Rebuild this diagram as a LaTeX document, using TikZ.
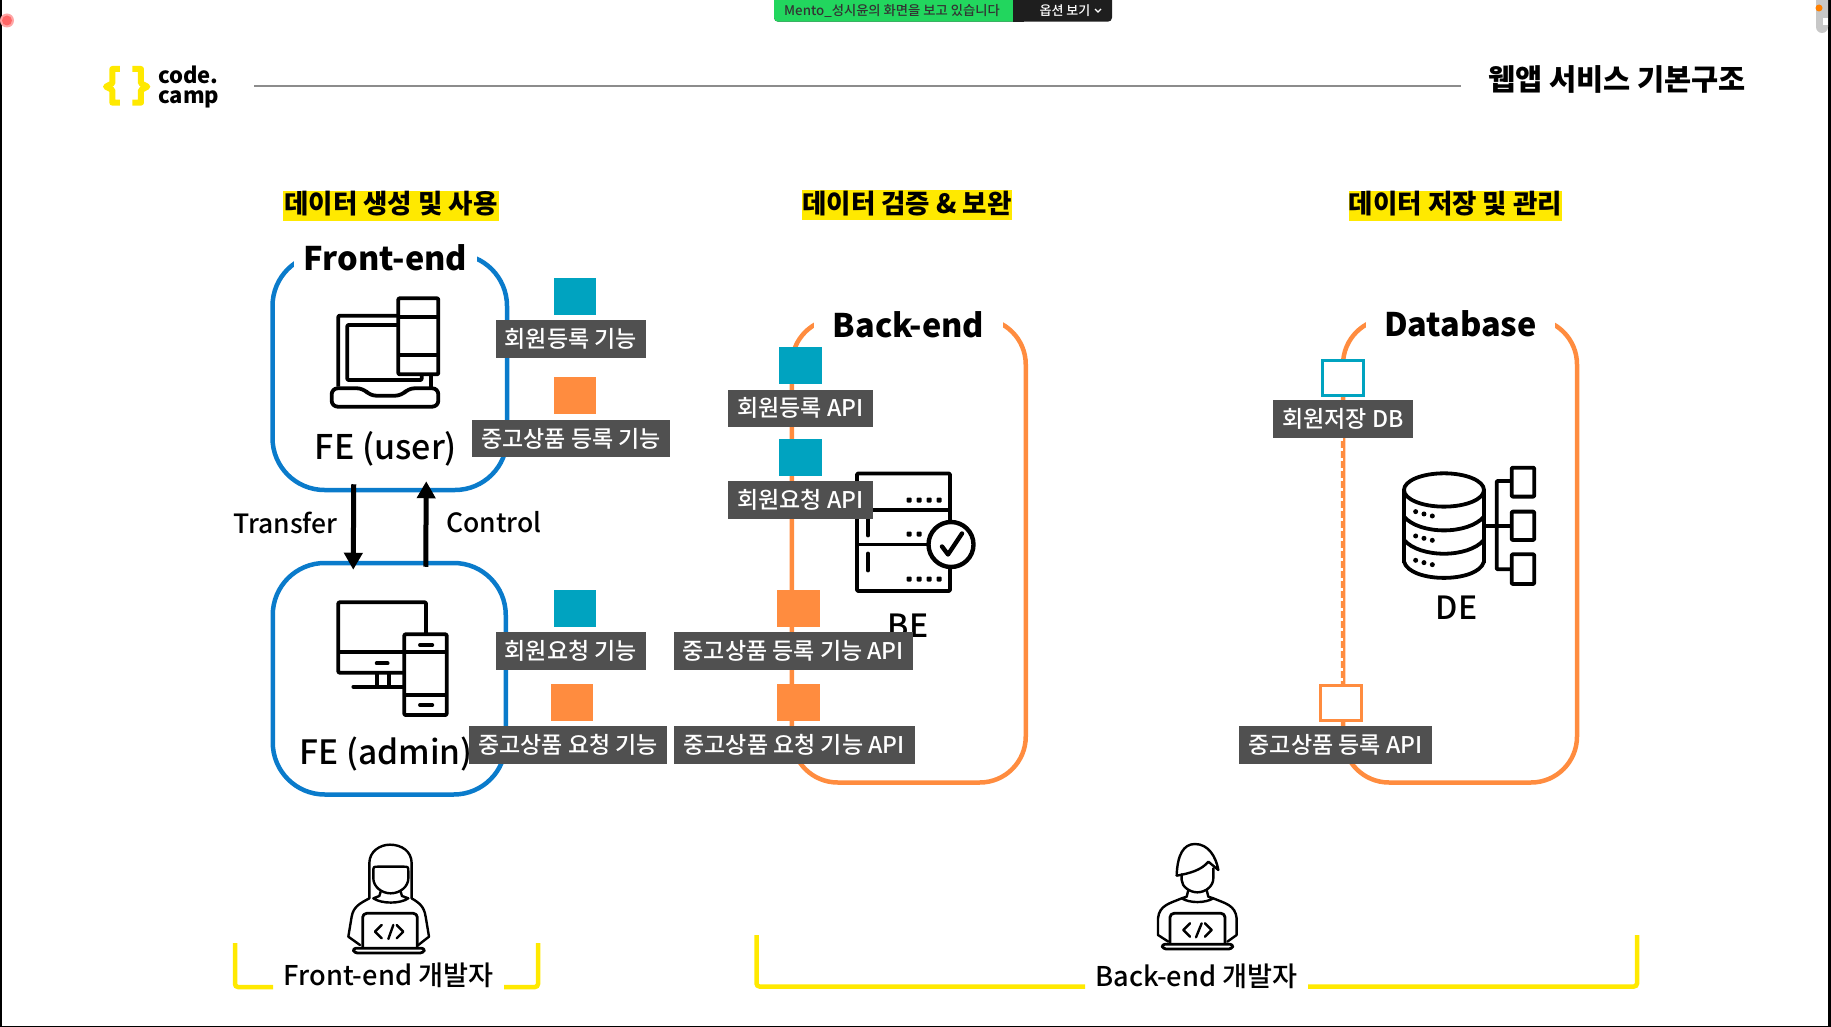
\documentclass[tikz,border=0pt]{standalone}
\usepackage{xcolor}
\usepackage{fontspec}
\setmainfont{Noto Sans CJK KR}
\newfontfamily\medfont{Noto Sans CJK KR Medium}
\usetikzlibrary{arrows.meta, positioning}
\definecolor{feblue}{HTML}{0A7BCB}
\definecolor{beorange}{HTML}{FF8C3F}
\definecolor{swteal}{HTML}{00A3C0}
\definecolor{lblgray}{HTML}{505050}
\definecolor{hiyellow}{HTML}{FFE900}
\definecolor{barfg}{HTML}{22D65E}
\definecolor{bardark}{HTML}{1E1E1E}
\newcommand{\fsz}[1]{\fontsize{#1}{#1}\selectfont}

\begin{document}
\begin{tikzpicture}[
  x=1pt, y=-1pt,
  febox/.style={rectangle, draw=feblue, line width=4.5pt, rounded corners=52pt},
  grpbox/.style={rectangle, draw=beorange, line width=4.5pt, rounded corners=46pt, minimum width=234pt, minimum height=464pt},
  grptitle/.style={fill=white, inner sep=0pt, minimum height=38pt, font=\fsz{32.5}\bfseries},
  headline/.style={fill=hiyellow, inner sep=0pt, text height=23pt, text depth=7pt, font=\fsz{26.5}\bfseries},
  plain/.style={inner sep=0pt, font=\fsz{32}\medfont},
  sidetext/.style={inner sep=0pt, font=\fsz{26.5}\medfont},
  devtext/.style={inner sep=0pt, font=\fsz{27.2}\medfont},
  apilbl/.style={fill=lblgray, text=white, inner sep=0pt, minimum height=37.5pt, font=\fsz{23}\medfont},
  tealsq/.style={fill=swteal, inner sep=0pt, minimum width=42.5pt, minimum height=37pt},
  orangesq/.style={fill=beorange, inner sep=0pt, minimum width=42.5pt, minimum height=37pt},
  tealopen/.style={draw=swteal, fill=white, line width=2.6pt, inner sep=0pt, minimum width=41pt, minimum height=35pt},
  orangeopen/.style={draw=beorange, fill=white, line width=2.6pt, inner sep=0pt, minimum width=41pt, minimum height=35pt},
  flowarrow/.style={line width=5pt, -{Triangle[width=18pt,length=17pt]}},
  bracket/.style={draw=hiyellow, line width=4.5pt, rounded corners=3pt},
  icon/.style={line width=3.8pt, line join=round, rounded corners=1pt},
  person/.style={line width=2.4pt, line join=round, line cap=round},
  iconpx/.style={x=0.3333pt, y=-0.3333pt}
]
\useasboundingbox (0,0) rectangle (1831,1027);

% window edges and the sharing bar
\fill[black] (0,0) rectangle (2,1027);
\fill[black] (1828,0) rectangle (1831,1027);
\fill[black] (0,1025.5) rectangle (1831,1027);
\fill[red!35!white] (7,20.5) circle (7pt);
\fill[red!60!white] (7,20.5) circle (5pt);
\fill[black!22, rounded corners=6pt] (1816,-10) rectangle (1828,33);
\fill[white] (1823,18) rectangle (1828,25);
\fill[orange] (1819,8) circle (3.5pt);
\fill[bardark, rounded corners=4pt] (774,-10) rectangle (1112,21.7);
\fill[barfg, rounded corners=4pt] (774,-10) rectangle (1020,21.7);
\fill[bardark] (1013,-10) rectangle (1024,21.7);
\node[inner sep=0pt, text=black!80, font=\fsz{13.3}\medfont] (barname) at (892,11) {Mento\_성시윤의 화면을 보고 있습니다};
\node[inner sep=0pt, text=white, font=\fsz{13}\medfont] (baropt) at (1065,11) {옵션 보기};
\draw[white, line width=1.2pt] (1095,9) -- (1098,12) -- (1101,9);

% logo, rule and page title
\begin{scope}[shift={(95,55)}, iconpx]
  \draw[hiyellow, line width=6pt, line join=round] (75,42) -- (52,42) -- (52,85) -- (33,95) -- (52,105) -- (52,143) -- (75,143);
  \draw[hiyellow, line width=6pt, line join=round] (112,42) -- (138,42) -- (138,85) -- (157,95) -- (138,105) -- (138,143) -- (112,143);
\end{scope}
\node[inner sep=0pt, align=left, anchor=west, font=\fontsize{22}{20}\selectfont\bfseries] (logo) at (158,86.5) {code.\\camp};
\node[inner sep=0pt, font=\fsz{29.5}\bfseries] (pagetitle) at (1617,79) {웹앱 서비스 기본구조};
\coordinate (rulea) at (254,86.5);
\coordinate (ruleb) at (1461,86.5);
\draw[black!45, line width=2pt] (rulea) -- (ruleb);

\node[headline, minimum width=216pt] (headfe) at (391,206) {데이터 생성 및 사용};
\node[headline, minimum width=210pt] (headbe) at (907,205.5) {데이터 검증 \& 보완};
\node[headline, minimum width=213pt] (headdb) at (1455.5,206) {데이터 저장 및 관리};

% the four boxes
\node[febox, minimum width=234.5pt, minimum height=236pt] (feuser) at (389.75,372) {};
\node[febox, minimum width=233pt, minimum height=231.5pt] (feadmin) at (389.25,678.75) {};
\node[grpbox] (bebox) at (908.75,550.5) {};
\node[grpbox] (dbbox) at (1460,550.5) {};

\node[grptitle, minimum width=183pt] (fetitle) at (385.5,258) {Front-end};
\node[grptitle, minimum width=189pt] (betitle) at (908.5,325) {Back-end};
\node[grptitle, minimum width=189pt] (dbtitle) at (1460.5,324) {Database};

\node[plain, font=\fsz{34}\medfont] (feusertxt) at (386,449) {FE (user)};
\node[plain, font=\fsz{33.5}\medfont] (feadmintxt) at (386,754) {FE (admin)};
\node[plain] (betxt) at (908,626) {BE};
\node[plain] (detxt) at (1456.5,607.5) {DE};

\draw[flowarrow] ([xshift=-36pt,yshift=8pt]feuser.south) -- ([xshift=-36pt,yshift=-9pt]feadmin.north);
\draw[flowarrow] ([xshift=36.5pt,yshift=-6pt]feadmin.north) -- ([xshift=36.5pt,yshift=11pt]feuser.south);
\node[sidetext] (transfer) at (285.5,522.5) {Transfer};
\node[sidetext] (control) at (494,522.5) {Control};

% laptop
\begin{scope}[shift={(320,285)}, iconpx, icon]
  \draw (55,305) -- (55,92) -- (235,92);
  \draw (235,120) -- (82,120) -- (82,285) -- (305,285) -- (305,268);
  \draw (333,268) -- (333,305);
  \draw (235,40) rectangle (355,268);
  \draw (235,97) -- (355,97);
  \draw (235,210) -- (355,210);
  \draw[rounded corners=6pt] (35,310) -- (130,310) -- (150,332) -- (245,332) -- (265,310) -- (355,310) -- (355,365) -- (35,365) -- cycle;
\end{scope}
% desktop and phone
\begin{scope}[shift={(325,590)}, iconpx, icon]
  \draw (303,130) -- (303,37) -- (40,37) -- (40,248) -- (235,248);
  \draw (40,187) -- (235,187);
  \draw[line cap=round] (155,220) -- (188,220);
  \draw (155,248) -- (155,290);
  \draw (192,248) -- (192,290);
  \draw[line cap=round] (85,290) -- (235,290);
  \draw (238,133) rectangle (365,375);
  \draw (238,187) -- (365,187);
  \draw (238,315) -- (365,315);
  \draw[line cap=round] (285,165) -- (322,165);
  \draw[line cap=round] (285,345) -- (322,345);
\end{scope}
% server rack
\begin{scope}[shift={(857,473.5)}, icon]
  \draw (0,0) rectangle (93,117.5);
  \draw (0,36.5) -- (93,36.5);
  \draw (0,71) -- (93,71);
  \draw[line cap=round] (11,45) -- (11,62);
  \draw[line cap=round] (11,80) -- (11,97);
  \foreach \dotx in {52,62,72,82} {
    \fill (\dotx-2.5,24) rectangle (\dotx+2.5,29);
    \fill (\dotx-2.5,103) rectangle (\dotx+2.5,108);
  }
  \foreach \dotx in {52,62} {
    \fill (\dotx-2.5,58) rectangle (\dotx+2.5,63);
  }
  \draw[fill=white, line width=4.4pt] (94,71) circle (22.5pt);
  \draw[line width=4.4pt, line cap=round, sharp corners] (85,73) -- (91,81) -- (105,60);
\end{scope}
% database and tree
\begin{scope}[shift={(1200,290)}, iconpx, icon]
  \draw (732,600) ellipse [x radius=120, y radius=50];
  \draw (612,600) -- (612,820);
  \draw (852,600) -- (852,820);
  \draw (612,680) .. controls (660,735) and (804,735) .. (852,680);
  \draw (612,750) .. controls (660,805) and (804,805) .. (852,750);
  \draw (612,815) .. controls (630,880) and (834,880) .. (852,815);
  \foreach \rowy in {0,73,146} {
    \fill (647,665+\rowy) circle (2.5pt);
    \fill (672,672+\rowy) circle (2.5pt);
    \fill (697,678+\rowy) circle (2.5pt);
  }
  \draw (935,573) -- (890,573) -- (890,838) -- (935,838);
  \draw (852,708) -- (935,708);
  \draw (935,533) rectangle (1003,620);
  \draw (935,665) rectangle (1003,750);
  \draw (935,793) rectangle (1003,882);
\end{scope}

% labels and their squares
\node[apilbl, minimum width=150.5pt] (fesignup) at (570.75,339) {회원등록 기능};
\node[tealsq, above=5pt of fesignup, xshift=4pt] (fesignupsq) {};
\node[apilbl, minimum width=198pt] (feadd) at (571,438.5) {중고상품 등록 기능};
\node[orangesq, above=5pt of feadd, xshift=4pt] (feaddsq) {};
\node[apilbl, minimum width=150.5pt] (fereq) at (570.75,650.75) {회원요청 기능};
\node[tealsq, above=5pt of fereq, xshift=4pt] (fereqsq) {};
\node[apilbl, minimum width=198pt] (feget) at (568,745) {중고상품 요청 기능};
\node[orangesq, above=5pt of feget, xshift=4pt] (fegetsq) {};

\node[apilbl, minimum width=145.3pt] (besignup) at (800.3,408.25) {회원등록 API};
\node[tealsq, above=5pt of besignup] (besignupsq) {};
\node[apilbl, minimum width=145.3pt] (bereq) at (800.3,500) {회원요청 API};
\node[tealsq, above=5pt of bereq] (bereqsq) {};
\node[apilbl, minimum width=239.4pt] (beadd) at (793.3,650.75) {중고상품 등록 기능 API};
\node[orangesq, above=5pt of beadd, xshift=5pt] (beaddsq) {};
\node[apilbl, minimum width=241pt] (beget) at (794.1,745) {중고상품 요청 기능 API};
\node[orangesq, above=5pt of beget, xshift=4.5pt] (begetsq) {};

\node[apilbl, minimum width=140pt] (dbsave) at (1343,419) {회원저장 DB};
\node[tealopen, above=3.5pt of dbsave] (dbsavesq) {};
\node[apilbl, minimum width=193pt] (dbadd) at (1335.5,745) {중고상품 등록 API};
\node[orangeopen, above=4pt of dbadd, xshift=5.3pt] (dbaddsq) {};
\draw[white, line width=5pt, dash pattern=on 3pt off 7pt] (dbsave.south -| dbbox.west) -- (dbaddsq.north -| dbbox.west);

% developers
\begin{scope}[shift={(340,835)}, iconpx, person]
  \draw (88,190) -- (88,85) .. controls (88,49) and (120,29) .. (150,29) .. controls (185,29) and (215,49) .. (215,85) -- (215,190);
  \draw (100,110) .. controls (100,95) .. (115,95) -- (190,95) .. controls (205,95) .. (205,110) -- (205,130) .. controls (205,155) and (180,175) .. (152,175) .. controls (125,175) and (100,155) .. (100,130) -- cycle;
  \draw (122,170) -- (118,183) -- (100,190) .. controls (125,207) and (180,207) .. (205,190) -- (186,183) -- (182,170);
  \draw (88,190) .. controls (60,205) and (40,215) .. (35,245) -- (25,305) -- (60,330);
  \draw (215,190) .. controls (240,205) and (252,215) .. (257,245) -- (267,305) -- (235,330);
  \draw[rounded corners=4pt, line width=2.8pt] (68,338) -- (68,235) -- (232,235) -- (232,338);
  \draw[rounded corners=3pt, line width=2.8pt] (38,340) -- (255,340) -- (250,354) -- (43,354) -- cycle;
  \draw (125,270) -- (105,290) -- (125,310);
  \draw (160,270) -- (145,312);
  \draw (170,270) -- (190,290) -- (170,310);
\end{scope}
\begin{scope}[shift={(1140,835)}, iconpx, person]
  \draw (110,122) .. controls (112,60) and (130,27) .. (165,27) .. controls (205,27) and (228,65) .. (235,105) -- (205,80) .. controls (185,105) and (150,115) .. (110,122);
  \draw (125,118) -- (125,135) .. controls (125,155) and (150,172) .. (172,172) .. controls (195,172) and (220,155) .. (220,130) -- (220,100);
  \draw (145,165) -- (140,185) -- (125,190) .. controls (150,205) and (195,205) .. (220,190) -- (205,185) -- (200,165);
  \draw (125,190) .. controls (90,205) and (58,210) .. (54,250) -- (54,300) -- (85,320);
  \draw (220,190) .. controls (255,205) and (286,210) .. (290,250) -- (290,300) -- (262,320);
  \draw[rounded corners=4pt, line width=2.8pt] (90,326) -- (90,235) -- (255,235) -- (255,326);
  \draw[rounded corners=3pt, line width=2.8pt] (65,328) -- (280,328) -- (276,342) -- (69,342) -- cycle;
  \draw (150,265) -- (130,285) -- (150,305);
  \draw (185,265) -- (168,307);
  \draw (195,265) -- (215,285) -- (195,305);
\end{scope}

\node[devtext] (fedev) at (388.5,975.5) {Front-end 개발자};
\node[devtext] (bedev) at (1196.5,976) {Back-end 개발자};

\coordinate (fela) at (235,943);
\coordinate (felb) at (273,987);
\coordinate (fera) at (538,943);
\coordinate (ferb) at (504,987);
\coordinate (bela) at (756.5,935);
\coordinate (belb) at (1085,986.5);
\coordinate (bera) at (1637,935);
\coordinate (berb) at (1308,986.5);
\draw[bracket] (fela) |- (felb);
\draw[bracket] (fera) |- (ferb);
\draw[bracket] (bela) |- (belb);
\draw[bracket] (bera) |- (berb);
\end{tikzpicture}
\end{document}
